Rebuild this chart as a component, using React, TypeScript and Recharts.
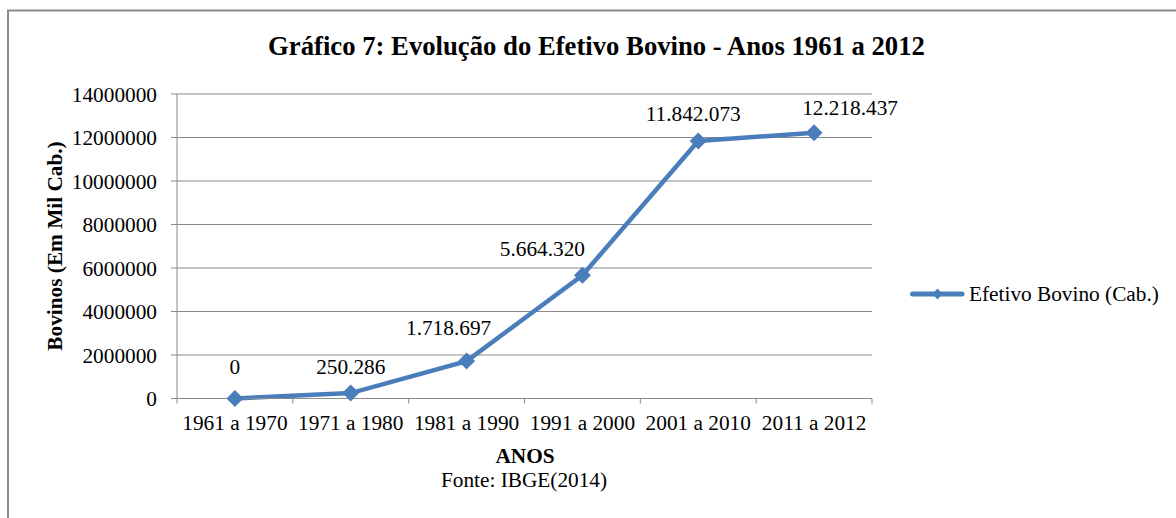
import React from 'react';
import { LineChart, Line, XAxis, YAxis, CartesianGrid, Legend } from 'recharts';

const categories = ['1961 a 1970', '1971 a 1980', '1981 a 1990', '1991 a 2000', '2001 a 2010', '2011 a 2012'];
const bovinos = [0, 250286, 1718697, 5664320, 11842073, 12218437];
const yTicks = [0, 2000000, 4000000, 6000000, 8000000, 10000000, 12000000, 14000000];
const seriesName = 'Efetivo Bovino (Cab.)';
const title = 'Gráfico 7: Evolução do Efetivo Bovino - Anos 1961 a 2012';
const yTitle = 'Bovinos (Em Mil Cab.)';
const xTitle = 'ANOS';
const source = 'Fonte: IBGE(2014)';

// each category sits in the middle of its slot, boundaries get the tick marks
const chartData = categories.map((periodo, i) => ({ periodo, pos: i + 0.5, value: bovinos[i] }));
const xTicks: number[] = [];
for (let i = 0; i <= categories.length * 2; i++) xTicks.push(i / 2);

const FONT = '"Liberation Serif", "Times New Roman", serif';
const FS = 21.3;
const BLUE = '#4A7EBB';
const GRID = '#8A8A8A';

// hand placed data labels, like the original (offset from the marker centre)
const labelDx = [0, 0, -18, -40, -5, 36];
const labelDy = [-32, -27, -34, -27, -27, -25];

const fmt = (v: number) => String(v).replace(/\B(?=(\d{3})+(?!\d))/g, '.');

const XTick = (props: any) => {
  const { x, y, payload } = props;
  const v = payload.value as number;
  if (Number.isInteger(v)) {
    return <line x1={x} x2={x} y1={y} y2={y + 5} stroke={GRID} strokeWidth={1} />;
  }
  return (
    <text x={x} y={y + 31} textAnchor="middle" fontSize={FS} fontFamily={FONT} fill="#000">
      {categories[Math.floor(v)]}
    </text>
  );
};

const Diamond = (props: any) => {
  const { cx, cy, index } = props;
  if (cx == null || cy == null) return null;
  const r = 8.5;
  return (
    <path
      key={`d-${index}`}
      d={`M${cx},${cy - r} L${cx + r},${cy} L${cx},${cy + r} L${cx - r},${cy} Z`}
      fill={BLUE}
      stroke="none"
    />
  );
};

const PointLabel = (props: any) => {
  const { x, y, value, index } = props;
  return (
    <text
      x={x + (labelDx[index] || 0)}
      y={y + (labelDy[index] || 0) + 7.5}
      textAnchor="middle"
      fontSize={FS}
      fontFamily={FONT}
      fill="#000"
    >
      {fmt(value)}
    </text>
  );
};

const LegendContent = (props: any) => {
  const item = props.payload && props.payload[0];
  return (
    <div style={{ display: 'flex', alignItems: 'center', height: 26, fontFamily: FONT, fontSize: FS, color: '#000' }}>
      <svg width={62} height={26} style={{ display: 'block' }}>
        <line x1={9.5} x2={59} y1={13} y2={13} stroke={BLUE} strokeWidth={5} strokeLinecap="round" />
        <path d="M34.5,7.5 L39.5,13 L34.5,18.5 L29.5,13 Z" fill={BLUE} />
      </svg>
      <span style={{ marginLeft: 4, whiteSpace: 'nowrap' }}>{item ? item.value : seriesName}</span>
    </div>
  );
};

export default function App() {
  return (
    <div style={{ position: 'fixed', left: 0, top: 0, width: 1176, height: 518, background: '#fff' }}>
      <LineChart
        width={1176}
        height={518}
        data={chartData}
        margin={{ top: 94, right: 304, bottom: 79.5, left: 0 }}
      >
        <CartesianGrid vertical={false} stroke={GRID} strokeWidth={1} />
        <XAxis
          dataKey="pos"
          type="number"
          domain={[0, categories.length]}
          ticks={xTicks}
          interval={0}
          height={40}
          tickSize={0}
          tickMargin={0}
          tickLine={false}
          axisLine={{ stroke: GRID, strokeWidth: 1 }}
          tick={<XTick />}
        />
        <YAxis
          width={177}
          domain={[0, 14000000]}
          ticks={yTicks}
          interval={0}
          tickSize={6}
          tickMargin={14}
          tickLine={{ stroke: GRID }}
          axisLine={{ stroke: GRID, strokeWidth: 1 }}
          tick={{ fontSize: FS, fontFamily: FONT, fill: '#000' }}
        />
        <Legend
          layout="horizontal"
          align="center"
          verticalAlign="middle"
          wrapperStyle={{ left: 903, top: 281, width: 273, height: 26 }}
          content={<LegendContent />}
        />
        <Line
          type="linear"
          dataKey="value"
          name={seriesName}
          stroke={BLUE}
          strokeWidth={4.5}
          dot={<Diamond />}
          activeDot={false}
          label={<PointLabel />}
          isAnimationActive={false}
        />
      </LineChart>
      <svg
        width={1176}
        height={518}
        style={{ position: 'absolute', left: 0, top: 0, pointerEvents: 'none' }}
      >
        <path d="M8,530 L8,10.5 L1190,10.5" fill="none" stroke={GRID} strokeWidth={2} />
        <text x={596.5} y={55} textAnchor="middle" fontSize={26.7} fontWeight="bold" fontFamily={FONT} fill="#000">
          {title}
        </text>
        <text
          x={61.5}
          y={246}
          transform="rotate(-90 61.5 246)"
          textAnchor="middle"
          fontSize={FS}
          fontWeight="bold"
          fontFamily={FONT}
          fill="#000"
        >
          {yTitle}
        </text>
        <text x={525} y={463} textAnchor="middle" fontSize={FS} fontWeight="bold" fontFamily={FONT} fill="#000">
          {xTitle}
        </text>
        <text x={524} y={487} textAnchor="middle" fontSize={FS} fontFamily={FONT} fill="#000">
          {source}
        </text>
      </svg>
    </div>
  );
}
